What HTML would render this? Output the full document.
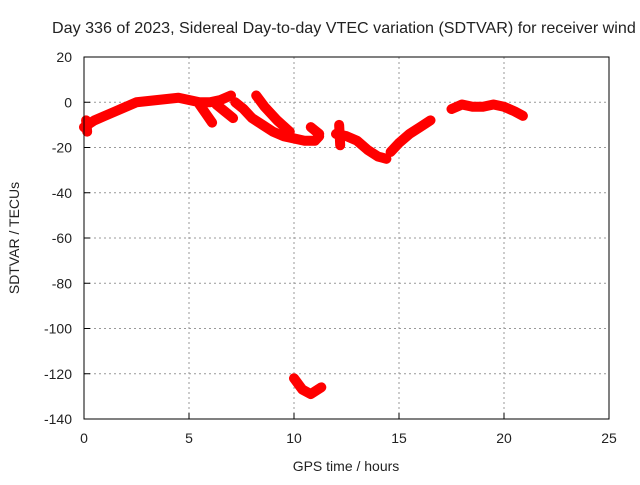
<!DOCTYPE html>
<html><head><meta charset="utf-8"><style>
body{margin:0;background:#fff;width:640px;height:480px;overflow:hidden}
svg text{font-family:"Liberation Sans",sans-serif;font-size:14px;fill:#222}
</style></head><body>
<svg id="chart" width="640" height="480" xmlns="http://www.w3.org/2000/svg">
<text x="52" y="33" style="font-size:16.1px">Day 336 of 2023, Sidereal Day-to-day VTEC variation (SDTVAR) for receiver wind</text>
<g id="grid"></g>
<g id="series"></g>
<rect x="84" y="57" width="525" height="362" fill="none" stroke="#000" stroke-width="1"/>
<g id="axes"></g>
<text x="346" y="471" text-anchor="middle">GPS time / hours</text>
<text transform="translate(19,238) rotate(-90)" text-anchor="middle">SDTVAR / TECUs</text>
</svg>
<script>
const xTicks=[0,5,10,15,20,25];
const yTicks=[20,0,-20,-40,-60,-80,-100,-120,-140];
const seg1T=[0,0.5,1,1.5,2,2.5,3,3.5,4,4.5,5,5.5,6,6.5,7];
const seg1V=[-11,-8,-6,-4,-2,0,0.5,1,1.5,2,1,0,0,1,3];
const branch0T=[0.1,0.15];
const branch0V=[-8,-13];
const branch1T=[5.5,5.8,6.1];
const branch1V=[-1,-5,-9];
const branch2T=[6.3,6.7,7.1];
const branch2V=[-1,-4,-7];
const seg2T=[7.2,7.6,8,8.5,9,9.5,10,10.5,11,11.2];
const seg2V=[0,-3,-7,-10,-13,-15,-16,-17,-17,-15];
const branch3T=[8.2,8.6,9.2,9.8];
const branch3V=[3,-2,-8,-13];
const branch4T=[10.8,11.2];
const branch4V=[-11,-14];
const seg3T=[12,12.5,13,13.5,14,14.4];
const seg3V=[-14,-15,-17,-21,-24,-25];
const branch5T=[12.15,12.2];
const branch5V=[-10,-19];
const seg4T=[14.6,15,15.5,16,16.5];
const seg4V=[-22,-18,-14,-11,-8];
const seg5T=[17.5,18,18.5,19,19.5,20,20.5,20.9];
const seg5V=[-3,-1,-2,-2,-1,-2,-4,-6];
const seg6T=[10,10.4,10.8,11.3];
const seg6V=[-122,-127,-129,-126];
const segments=[[seg1T,seg1V,'band-1'],[branch0T,branch0V,'branch-0'],[branch1T,branch1V,'branch-1'],[branch2T,branch2V,'branch-2'],[seg2T,seg2V,'band-2'],[branch3T,branch3V,'branch-3'],[branch4T,branch4V,'branch-4'],[seg3T,seg3V,'band-3'],[branch5T,branch5V,'branch-5'],[seg4T,seg4V,'band-4'],[seg5T,seg5V,'band-5'],[seg6T,seg6V,'outlier-band']];
const NS='http://www.w3.org/2000/svg';
const xs=t=>84+t*21;
const ys=v=>57+(20-v)*2.2625;
const grid=document.getElementById('grid'),axes=document.getElementById('axes'),ser=document.getElementById('series');
function mk(tag,attrs,parent){const e=document.createElementNS(NS,tag);for(const k in attrs)e.setAttribute(k,attrs[k]);parent.appendChild(e);return e;}
xTicks.forEach(t=>{
 if(t>0&&t<25){const g=mk('line',{x1:xs(t),x2:xs(t),y1:57,y2:419,stroke:'#999','stroke-dasharray':'2,3'},grid);
 
 }
 const tk=mk('line',{x1:xs(t),x2:xs(t),y1:419,y2:413,stroke:'#000'},axes);
 
 
 const l=mk('text',{x:xs(t),y:443,'text-anchor':'middle'},axes);l.textContent=t;
 
 
});
yTicks.forEach(v=>{
 if(v<20&&v>-140){const g=mk('line',{x1:84,x2:609,y1:ys(v),y2:ys(v),stroke:'#999','stroke-dasharray':'2,3'},grid);
 
 }
 const tk=mk('line',{x1:84,x2:90,y1:ys(v),y2:ys(v),stroke:'#000'},axes);
 
 
 const l=mk('text',{x:72,y:ys(v)+5,'text-anchor':'end'},axes);l.textContent=v;
 
 
});
segments.forEach(([T,V,name])=>{
 const pts=T.map((t,i)=>xs(t)+','+ys(V[i])).join(' ');
 const p=mk('polyline',{points:pts,fill:'none',stroke:'#f00','stroke-width':10,'stroke-linejoin':'round','stroke-linecap':'round'},ser);
 
 
});
</script>
</body></html>
